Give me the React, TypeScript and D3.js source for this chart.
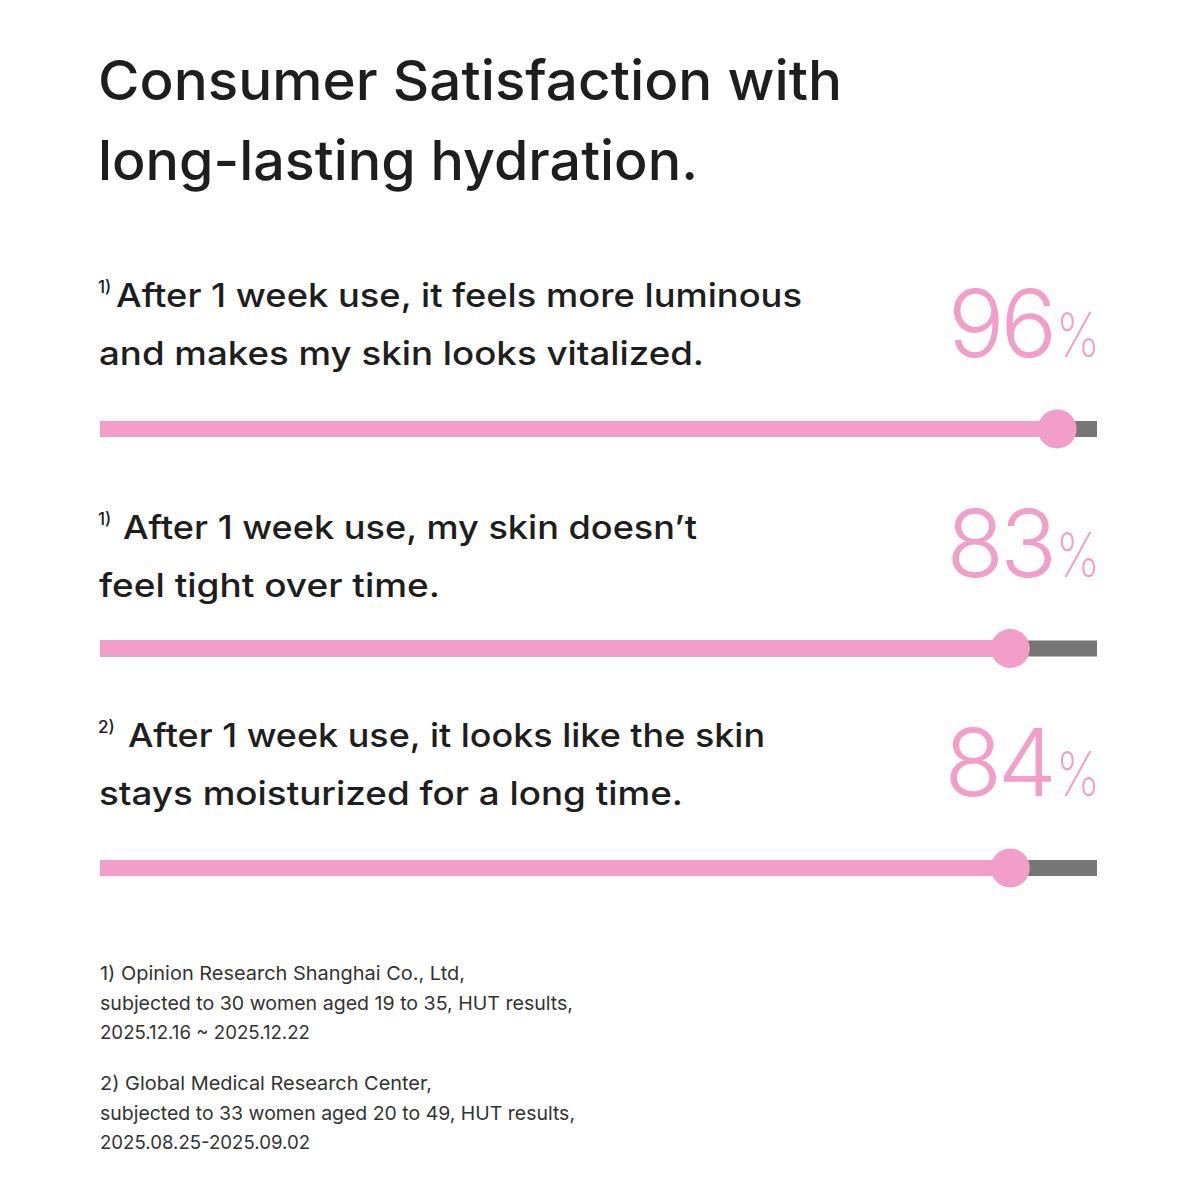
import React from "react";
import * as d3 from "d3";

const titleLines = ["Consumer Satisfaction with", "long-lasting hydration."];
const notes = ["1)", "1)", "2)"];
const statements = [
  ["After 1 week use, it feels more luminous", "and makes my skin looks vitalized."],
  ["After 1 week use, my skin doesn\u2019t", "feel tight over time."],
  ["After 1 week use, it looks like the skin", "stays moisturized for a long time."],
];
const values = [96, 83, 84];
// filled share of each track as drawn in the picture (percent of track)
const barFill = [96, 91.3, 91.3];
const footnotes = [
  [
    "1) Opinion Research Shanghai Co., Ltd,",
    "subjected to 30 women aged 19 to 35, HUT results,",
    "2025.12.16 ~ 2025.12.22",
  ],
  [
    "2) Global Medical Research Center,",
    "subjected to 33 women aged 20 to 49, HUT results,",
    "2025.08.25-2025.09.02",
  ],
];

const titleWidths = [744, 600];
const stmtStartX = [116, 123, 128];
const stmtWidths = [
  [686, 605],
  [574, 341],
  [637, 584],
];
const stmtBaseline = [307, 539, 747];
const footWidths = [
  [365, 473, 210],
  [332, 475, 210],
];

const PINK = "#F29EC8";
const GRAY = "#767676";
const DARK = "#1e1e1e";
const FONT = "Inter, 'Noto Sans', sans-serif";

export default function App() {
  const x = d3.scaleLinear().domain([0, 100]).range([100, 1097]);
  const blockY = d3.scaleLinear().domain([0, 1]).range([0, 219.5]);

  return (
    <svg
      width={1200}
      height={1200}
      style={{ position: "absolute", left: 0, top: 0, background: "#fff" }}
      fontFamily={FONT}
    >
      <rect width={1200} height={1200} fill="#fff" />
      {titleLines.map((t, i) => (
        <text
          key={i}
          x={98}
          y={100 + i * 80}
          fontSize={55}
          fontWeight={500}
          fill={DARK}
          textLength={titleWidths[i]}
          lengthAdjust="spacingAndGlyphs"
        >
          {t}
        </text>
      ))}
      {statements.map((lines, i) => {
        const dy = blockY(i);
        const barY = 429 + dy;
        const by = stmtBaseline[i];
        return (
          <g key={i}>
            <text x={98} y={by - 14} fill={DARK} fontWeight={500} fontSize={17}>
              {notes[i]}
            </text>
            <text
              x={stmtStartX[i]}
              y={by}
              fill={DARK}
              fontWeight={500}
              fontSize={33}
              textLength={stmtWidths[i][0]}
              lengthAdjust="spacingAndGlyphs"
            >
              {lines[0]}
            </text>
            <text
              x={99}
              y={by + 58}
              fill={DARK}
              fontWeight={500}
              fontSize={33}
              textLength={stmtWidths[i][1]}
              lengthAdjust="spacingAndGlyphs"
            >
              {lines[1]}
            </text>
            <text x={1053} y={357 + dy} textAnchor="end" fill={PINK} fontWeight={300} fontSize={94} letterSpacing={-4}>
              {values[i]}
            </text>
            <text x={1056} y={357 + dy} fill={PINK} fontWeight={200} fontSize={62} textLength={44} lengthAdjust="spacingAndGlyphs">
              %
            </text>
            <rect x={x(0)} y={barY - 8} width={x(100) - x(0)} height={16} fill={GRAY} />
            <rect x={x(0)} y={barY - 8} width={x(barFill[i]) - x(0)} height={16} fill={PINK} />
            <circle cx={x(barFill[i])} cy={barY} r={19.5} fill={PINK} />
          </g>
        );
      })}
      {footnotes.map((lines, i) =>
        lines.map((l, j) => (
          <text
            key={`${i}-${j}`}
            x={100}
            y={980 + i * 110 + j * 29.5}
            fontSize={19}
            fill="#333"
            textLength={footWidths[i][j]}
            lengthAdjust="spacingAndGlyphs"
          >
            {l}
          </text>
        ))
      )}
    </svg>
  );
}
